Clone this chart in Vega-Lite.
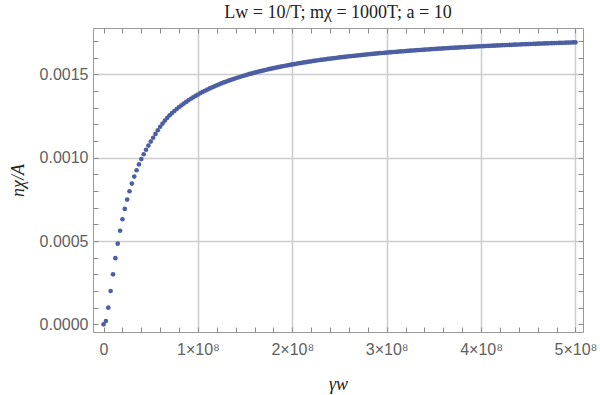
{
  "$schema": "https://vega.github.io/schema/vega-lite/v6.json",
  "autosize": {"type": "none"},
  "padding": {"left": 93, "top": 28, "right": 17, "bottom": 63},
  "width": 490,
  "height": 304,
  "background": "white",
  "config": {"view": {"stroke": "#9a9a9a", "strokeWidth": 1}},
  "title": {"text": "Lw = 10/T; mχ = 1000T; a = 10", "font": "Liberation Serif", "fontSize": 18, "fontWeight": "normal", "color": "#222", "offset": 6},
  "data": {"values": [
    {"g":0,"n":0},{"g":2.5e6,"n":2.0e-5},{"g":5e6,"n":1.00e-4},{"g":7.5e6,"n":2.00e-4},{"g":1e7,"n":3.00e-4},
    {"g":1.25e7,"n":3.97e-4},{"g":1.5e7,"n":4.84e-4},{"g":1.75e7,"n":5.62e-4},{"g":2e7,"n":6.31e-4},{"g":2.25e7,"n":6.93e-4},
    {"g":2.5e7,"n":7.49e-4},{"g":2.75e7,"n":7.99e-4},{"g":3e7,"n":8.45e-4},{"g":3.25e7,"n":8.87e-4},{"g":3.5e7,"n":9.25e-4},
    {"g":3.75e7,"n":9.60e-4},{"g":4e7,"n":9.92e-4},{"g":4.25e7,"n":1.021e-3},{"g":4.5e7,"n":1.048e-3},{"g":4.75e7,"n":1.073e-3},
    {"g":5e7,"n":1.097e-3},{"g":5.25e7,"n":1.120e-3},{"g":5.5e7,"n":1.143e-3},{"g":5.75e7,"n":1.165e-3},{"g":6e7,"n":1.186e-3},
    {"g":6.25e7,"n":1.205e-3},{"g":6.5e7,"n":1.223e-3},{"g":6.75e7,"n":1.240e-3},{"g":7e7,"n":1.255e-3},
    {"g":7.25e7,"n":1.2682e-3},{"g":7.5e7,"n":1.2807e-3},{"g":7.75e7,"n":1.2927e-3},{"g":8e7,"n":1.3041e-3},{"g":8.25e7,"n":1.3150e-3},
    {"g":8.5e7,"n":1.3254e-3},{"g":8.75e7,"n":1.3354e-3},{"g":9e7,"n":1.3450e-3},{"g":9.25e7,"n":1.3542e-3},{"g":9.5e7,"n":1.3630e-3},
    {"g":9.75e7,"n":1.3715e-3},{"g":1e8,"n":1.3796e-3},{"g":1.025e8,"n":1.3875e-3},{"g":1.05e8,"n":1.3950e-3},{"g":1.075e8,"n":1.4023e-3},
    {"g":1.1e8,"n":1.4093e-3},{"g":1.125e8,"n":1.4161e-3},{"g":1.15e8,"n":1.4226e-3},{"g":1.175e8,"n":1.4289e-3},{"g":1.2e8,"n":1.4350e-3},
    {"g":1.225e8,"n":1.4409e-3},{"g":1.25e8,"n":1.4466e-3},{"g":1.275e8,"n":1.4521e-3},{"g":1.3e8,"n":1.4575e-3},{"g":1.325e8,"n":1.4627e-3},
    {"g":1.35e8,"n":1.4677e-3},{"g":1.375e8,"n":1.4726e-3},{"g":1.4e8,"n":1.4774e-3},{"g":1.425e8,"n":1.4820e-3},{"g":1.45e8,"n":1.4864e-3},
    {"g":1.475e8,"n":1.4908e-3},{"g":1.5e8,"n":1.4950e-3},{"g":1.525e8,"n":1.4991e-3},{"g":1.55e8,"n":1.5031e-3},{"g":1.575e8,"n":1.5070e-3},
    {"g":1.6e8,"n":1.5108e-3},{"g":1.625e8,"n":1.5145e-3},{"g":1.65e8,"n":1.5181e-3},{"g":1.675e8,"n":1.5216e-3},{"g":1.7e8,"n":1.5250e-3},
    {"g":1.725e8,"n":1.5283e-3},{"g":1.75e8,"n":1.5316e-3},{"g":1.775e8,"n":1.5348e-3},{"g":1.8e8,"n":1.5379e-3},{"g":1.825e8,"n":1.5409e-3},
    {"g":1.85e8,"n":1.5438e-3},{"g":1.875e8,"n":1.5467e-3},{"g":1.9e8,"n":1.5495e-3},{"g":1.925e8,"n":1.5523e-3},{"g":1.95e8,"n":1.5550e-3},
    {"g":1.975e8,"n":1.5576e-3},{"g":2e8,"n":1.5602e-3},{"g":2.025e8,"n":1.5627e-3},{"g":2.05e8,"n":1.5652e-3},{"g":2.075e8,"n":1.5676e-3},
    {"g":2.1e8,"n":1.5700e-3},{"g":2.125e8,"n":1.5723e-3},{"g":2.15e8,"n":1.5746e-3},{"g":2.175e8,"n":1.5768e-3},{"g":2.2e8,"n":1.5790e-3},
    {"g":2.225e8,"n":1.5811e-3},{"g":2.25e8,"n":1.5832e-3},{"g":2.275e8,"n":1.5853e-3},{"g":2.3e8,"n":1.5873e-3},{"g":2.325e8,"n":1.5893e-3},
    {"g":2.35e8,"n":1.5912e-3},{"g":2.375e8,"n":1.5931e-3},{"g":2.4e8,"n":1.5950e-3},{"g":2.425e8,"n":1.5968e-3},{"g":2.45e8,"n":1.5986e-3},
    {"g":2.475e8,"n":1.6004e-3},{"g":2.5e8,"n":1.6021e-3},{"g":2.525e8,"n":1.6039e-3},{"g":2.55e8,"n":1.6055e-3},{"g":2.575e8,"n":1.6072e-3},
    {"g":2.6e8,"n":1.6088e-3},{"g":2.625e8,"n":1.6104e-3},{"g":2.65e8,"n":1.6120e-3},{"g":2.675e8,"n":1.6135e-3},{"g":2.7e8,"n":1.6150e-3},
    {"g":2.725e8,"n":1.6165e-3},{"g":2.75e8,"n":1.6180e-3},{"g":2.775e8,"n":1.6194e-3},{"g":2.8e8,"n":1.6208e-3},{"g":2.825e8,"n":1.6222e-3},
    {"g":2.85e8,"n":1.6236e-3},{"g":2.875e8,"n":1.6249e-3},{"g":2.9e8,"n":1.6263e-3},{"g":2.925e8,"n":1.6276e-3},{"g":2.95e8,"n":1.6289e-3},
    {"g":2.975e8,"n":1.6301e-3},{"g":3e8,"n":1.6314e-3},{"g":3.025e8,"n":1.6326e-3},{"g":3.05e8,"n":1.6338e-3},{"g":3.075e8,"n":1.6350e-3},
    {"g":3.1e8,"n":1.6362e-3},{"g":3.125e8,"n":1.6373e-3},{"g":3.15e8,"n":1.6385e-3},{"g":3.175e8,"n":1.6396e-3},{"g":3.2e8,"n":1.6407e-3},
    {"g":3.225e8,"n":1.6418e-3},{"g":3.25e8,"n":1.6429e-3},{"g":3.275e8,"n":1.6440e-3},{"g":3.3e8,"n":1.6450e-3},{"g":3.325e8,"n":1.6460e-3},
    {"g":3.35e8,"n":1.6471e-3},{"g":3.375e8,"n":1.6481e-3},{"g":3.4e8,"n":1.6491e-3},{"g":3.425e8,"n":1.6500e-3},{"g":3.45e8,"n":1.6510e-3},
    {"g":3.475e8,"n":1.6520e-3},{"g":3.5e8,"n":1.6529e-3},{"g":3.525e8,"n":1.6538e-3},{"g":3.55e8,"n":1.6547e-3},{"g":3.575e8,"n":1.6557e-3},
    {"g":3.6e8,"n":1.6565e-3},{"g":3.625e8,"n":1.6574e-3},{"g":3.65e8,"n":1.6583e-3},{"g":3.675e8,"n":1.6592e-3},{"g":3.7e8,"n":1.6600e-3},
    {"g":3.725e8,"n":1.6608e-3},{"g":3.75e8,"n":1.6617e-3},{"g":3.775e8,"n":1.6625e-3},{"g":3.8e8,"n":1.6633e-3},{"g":3.825e8,"n":1.6641e-3},
    {"g":3.85e8,"n":1.6649e-3},{"g":3.875e8,"n":1.6657e-3},{"g":3.9e8,"n":1.6664e-3},{"g":3.925e8,"n":1.6672e-3},{"g":3.95e8,"n":1.6679e-3},
    {"g":3.975e8,"n":1.6687e-3},{"g":4e8,"n":1.6694e-3},{"g":4.025e8,"n":1.6701e-3},{"g":4.05e8,"n":1.6709e-3},{"g":4.075e8,"n":1.6716e-3},
    {"g":4.1e8,"n":1.6723e-3},{"g":4.125e8,"n":1.6730e-3},{"g":4.15e8,"n":1.6737e-3},{"g":4.175e8,"n":1.6743e-3},{"g":4.2e8,"n":1.6750e-3},
    {"g":4.225e8,"n":1.6757e-3},{"g":4.25e8,"n":1.6763e-3},{"g":4.275e8,"n":1.6770e-3},{"g":4.3e8,"n":1.6776e-3},{"g":4.325e8,"n":1.6782e-3},
    {"g":4.35e8,"n":1.6789e-3},{"g":4.375e8,"n":1.6795e-3},{"g":4.4e8,"n":1.6801e-3},{"g":4.425e8,"n":1.6807e-3},{"g":4.45e8,"n":1.6813e-3},
    {"g":4.475e8,"n":1.6819e-3},{"g":4.5e8,"n":1.6825e-3},{"g":4.525e8,"n":1.6831e-3},{"g":4.55e8,"n":1.6837e-3},{"g":4.575e8,"n":1.6842e-3},
    {"g":4.6e8,"n":1.6848e-3},{"g":4.625e8,"n":1.6854e-3},{"g":4.65e8,"n":1.6859e-3},{"g":4.675e8,"n":1.6865e-3},{"g":4.7e8,"n":1.6870e-3},
    {"g":4.725e8,"n":1.6875e-3},{"g":4.75e8,"n":1.6881e-3},{"g":4.775e8,"n":1.6886e-3},{"g":4.8e8,"n":1.6891e-3},{"g":4.825e8,"n":1.6896e-3},
    {"g":4.85e8,"n":1.6901e-3},{"g":4.875e8,"n":1.6906e-3},{"g":4.9e8,"n":1.6912e-3},{"g":4.925e8,"n":1.6917e-3},{"g":4.95e8,"n":1.6921e-3},
    {"g":4.975e8,"n":1.6926e-3},{"g":5e8,"n":1.6931e-3}
  ]},
  "resolve": {"scale": {"x": "shared", "y": "shared"}, "axis": {"x": "independent", "y": "independent"}},
  "layer": [
    {
      "mark": {"type": "point", "filled": true, "size": 22, "color": "#4d5fa3", "opacity": 1},
      "encoding": {
        "x": {"field": "g", "type": "quantitative",
          "scale": {"domain": [-1.12e7, 5.08e8], "nice": false, "zero": false},
          "axis": {"orient": "bottom", "title": "γw",
            "values": [0,2e7,4e7,6e7,8e7,1e8,1.2e8,1.4e8,1.6e8,1.8e8,2e8,2.2e8,2.4e8,2.6e8,2.8e8,3e8,3.2e8,3.4e8,3.6e8,3.8e8,4e8,4.2e8,4.4e8,4.6e8,4.8e8,5e8],
            "labelExpr": "datum.value % 1e8 === 0 ? (datum.value === 0 ? '0' : (datum.value/1e8) + '×10⁸') : ''",
            "domain": false, "offset": -5, "ticks": true, "tickSize": 5, "tickColor": "#8a8a8a", "tickWidth": 1,
            "grid": true,
            "gridOpacity": {"condition": {"test": "datum.value % 1e8 === 0 && datum.value !== 0", "value": 1}, "value": 0},
            "gridColor": "#cccccc", "gridWidth": 1.5,
            "labelFont": "Liberation Sans", "labelFontSize": 16, "labelColor": "#606060", "labelPadding": 9, "labelFlush": false,
            "titleFont": "Liberation Serif", "titleFontStyle": "italic", "titleFontWeight": "normal", "titleFontSize": 18, "titleColor": "#222", "titlePadding": 18}},
        "y": {"field": "n", "type": "quantitative",
          "scale": {"domain": [-0.000046, 0.001779], "nice": false, "zero": false},
          "axis": {"orient": "left", "title": "nχ/A",
            "values": [0,0.0001,0.0002,0.0003,0.0004,0.0005,0.0006,0.0007,0.0008,0.0009,0.001,0.0011,0.0012,0.0013,0.0014,0.0015,0.0016,0.0017],
            "labelExpr": "round(datum.value*1e4) % 5 === 0 ? format(datum.value, '.4f') : ''",
            "domain": false, "offset": -5, "ticks": true, "tickSize": 5, "tickColor": "#8a8a8a", "tickWidth": 1,
            "grid": true,
            "gridOpacity": {"condition": {"test": "round(datum.value*1e4) % 5 === 0 && datum.value > 0", "value": 1}, "value": 0},
            "gridColor": "#cccccc", "gridWidth": 1.5,
            "labelFont": "Liberation Sans", "labelFontSize": 16, "labelColor": "#606060", "labelPadding": 5, "labelFlush": false,
            "titleFont": "Liberation Serif", "titleFontStyle": "italic", "titleFontWeight": "normal", "titleFontSize": 18, "titleColor": "#222", "titlePadding": 12}}
      }
    },
    {
      "mark": {"type": "point", "opacity": 0},
      "encoding": {
        "x": {"field": "g", "type": "quantitative",
          "axis": {"orient": "top", "title": null, "labels": false, "grid": false, "domain": false,
            "values": [0,2e7,4e7,6e7,8e7,1e8,1.2e8,1.4e8,1.6e8,1.8e8,2e8,2.2e8,2.4e8,2.6e8,2.8e8,3e8,3.2e8,3.4e8,3.6e8,3.8e8,4e8,4.2e8,4.4e8,4.6e8,4.8e8,5e8],
            "offset": -5, "ticks": true, "tickSize": 5, "tickColor": "#8a8a8a", "tickWidth": 1}},
        "y": {"field": "n", "type": "quantitative",
          "axis": {"orient": "right", "title": null, "labels": false, "grid": false, "domain": false,
            "values": [0,0.0001,0.0002,0.0003,0.0004,0.0005,0.0006,0.0007,0.0008,0.0009,0.001,0.0011,0.0012,0.0013,0.0014,0.0015,0.0016,0.0017],
            "offset": -5, "ticks": true, "tickSize": 5, "tickColor": "#8a8a8a", "tickWidth": 1}}
      }
    }
  ]
}
